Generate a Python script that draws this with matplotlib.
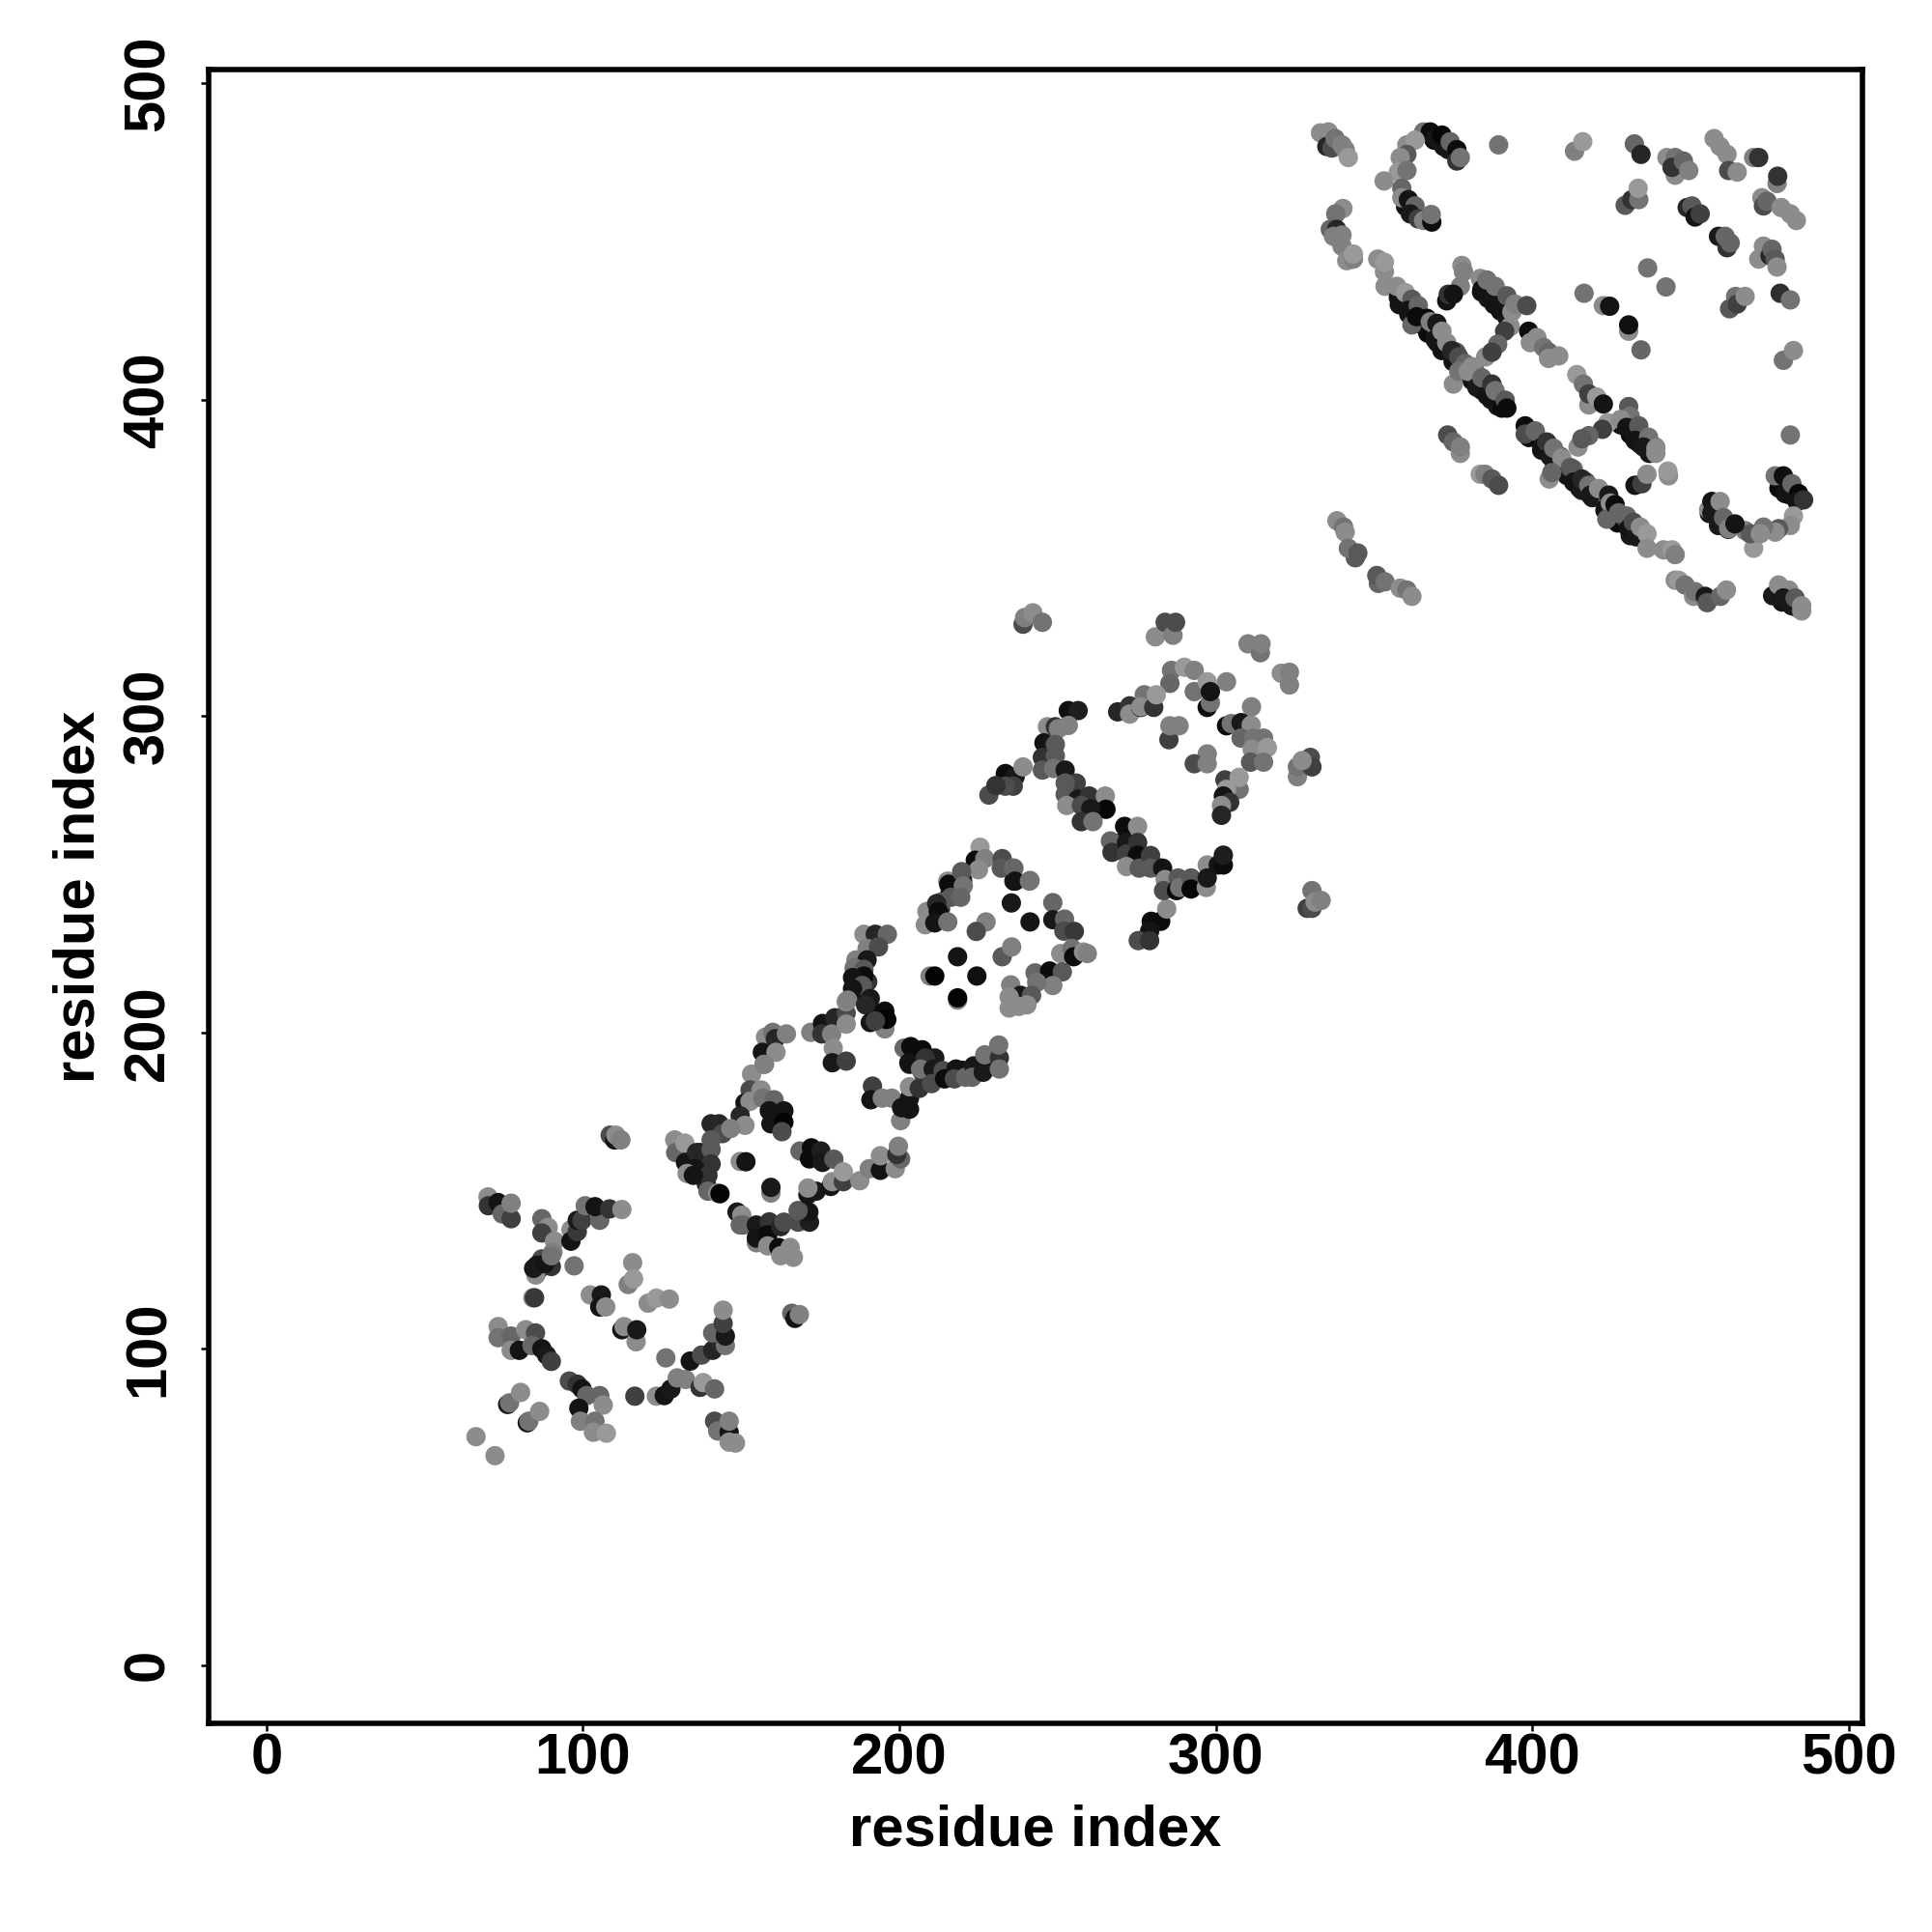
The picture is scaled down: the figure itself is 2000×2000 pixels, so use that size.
#!/usr/bin/env python3
import matplotlib
matplotlib.use("Agg")
import matplotlib.pyplot as plt
import numpy as np

# contacts: (residue i, residue j, grey level)
contacts_band_under = [
    (358,430,.08),(361,427,.1),(364,424,.08),(367,421,.05),(370,418,.08),(372,416,.1),
    (375,412,.08),(378,409,.05),(381,406,.08),(384,403,.05),(387,400,.08),(389,398,.1),
    (358,433,.45),(364,427,.5),(370,421,.4),(376,415,.35),(382,409,.45),(388,403,.5),
    (399,388,.05),(403,384,.08),(407,380,.1),(411,376,.08),(415,372,.05),(419,369,.1),
    (423,365,.08),(427,361,.05),(431,357,.1),(401,390,.4),(405,386,.35),(409,382,.25),
    (413,378,.4),(417,374,.3),(421,371,.45),(425,367,.35),(429,363,.3),(433,359,.45),
    (384,434,.08),(386,432,.1),(388,430,.08),(390,428,.05),(392,426,.1),(386,435,.4),
    (389,432,.35),(392,429,.45),(428,392,.08),(431,389,.05),(434,386,.1),(437,383,.08),
    (430,394,.35),(433,391,.4),(436,388,.3),(439,385,.45),(360,461,.08),(363,459,.1),
    (366,457,.05),(369,482,.05),(372,480,.08),(456,364,.08),(459,361,.1),(462,359,.05),
    (478,372,.05),(481,370,.08),(484,368,.05),(476,338,.1),(479,336,.08),(482,335,.1),
    (484,334,.5),
]
contacts_lower_under = [
    (135,160,.08),(137,157,.08),(139,152,.15),(137,162,.1),(212,187,.08),(216,187,.1),
    (220,188,.08),(224,187,.3),(228,189,.08),(209,190,.08),(187,218,.1),(186,212,.08),
    (190,216,.2),(193,206,.08),(196,204,.02),(262,270,.1),(258,274,.08),(270,260,.12),
    (274,258,.1),(278,254,.08),(282,252,.1),(86,125,.08),(88,128,.1),(90,126,.2),
    (213,239,.2),(216,244,.1),(220,248,.08),(224,252,.2),
]
contacts_far_left = [
    (66.2,72.2,.55),(72.2,66.2,.55),(76.2,82.4,.08),(76.8,82.9,.45),(80.3,86.2,.55),
    (82.4,76.6,.08),(82.9,77.1,.45),(86.3,80.2,.55),(70,148,.55),(70.1,145.2,.2),
    (73.2,146.2,.08),(74.5,142.6,.4),(77.3,141.1,.25),(77.3,146,.5),(87,141.1,.4),
    (89,138.4,.55),(87,136.6,.25),(91,134,.55),(87,128.4,.3),(85.1,123.3,.55),
    (85.5,126.4,.08),(84.4,125.4,.1),(88,126.9,.08),(90.5,130.5,.5),(90,129.4,.45),
    (96.2,137.6,.55),(96.2,134,.08),(98.2,137,.22),(98.2,140.6,.1),(99.7,140.6,.25),
    (100.7,145.2,.45),(105.3,140.6,.4),(103.8,144.9,.08),(108.4,144.2,.2),(112.3,144,.55),
    (97.2,126.2,.45),(84.2,116.1,.5),(84.7,116.1,.22),(108.6,167.5,.3),(110,166,.08),
    (110.4,167.5,.55),(112,166,.5),
]
contacts_mid_left = [
    (102.3,117,.55),(105.8,117,.1),(105.3,113.2,.08),(107.2,113.2,.55),(115.7,127.2,.55),
    (114.3,120.3,.5),(116,122.1,.6),(120.6,114.4,.55),(123.2,116,.6),(127.3,115.7,.55),
    (112.3,106,.08),(113,107,.55),(116.8,102.2,.55),(117,106,.1),(126.2,97.1,.45),
    (73.2,107,.55),(73.2,103.5,.45),(77.3,104,.4),(77.3,99.5,.55),(79.9,99.5,.08),
    (81.9,106,.55),(85,105,.3),(83.9,101,.4),(87,100,.08),(88.5,98,.1),(90,96,.25),
    (95.7,89.8,.3),(98.2,88.8,.2),(99.7,87.3,.08),(101.2,85.2,.4),(98.7,81.2,.08),
    (105.3,85.2,.4),(106.4,82.2,.55),(99.2,77.1,.5),(103.8,77.1,.45),(103.3,73.6,.55),
    (107.4,73.3,.6),(116.4,85,.25),
]
contacts_low_arm = [
    (123.2,85,.55),(125.7,85.2,.08),(127.8,87.3,.1),(129.8,90.8,.5),(132.4,90.3,.5),
    (137,87.8,.2),(138,89.3,.6),(141.6,87.3,.4),(133.9,96.1,.08),(137.5,98,.3),
    (141,99.5,.15),(141,105,.4),(145,101,.45),(145,104,.1),(144.3,108,.25),(144.3,112.2,.55),
    (141.6,77.1,.3),(142.6,74,.45),(146.2,73.6,.08),(146.2,77.1,.5),(146.2,70.5,.55),
    (148.2,70.2,.55),(166,111.2,.4),(167,109.6,.08),(168.4,110.8,.5),
]
contacts_square_a = [
    (153.3,186.8,.55),(157.4,189.9,.5),(152.8,181.8,.3),(156.3,181.8,.55),(151.2,177.7,.08),
    (152.8,178.2,.55),(149.7,173.6,.15),(151.2,170.6,.55),(156.8,179.2,.45),(160.4,178.7,.4),
    (158.9,175.2,.08),(163.5,175.2,.08),(159.4,171.1,.08),(163.5,171.6,.02),(162.9,168.6,.3),
    (140.5,171.1,.15),(143,171.1,.15),(144.1,168,.3),(146.7,169.6,.5),(140.5,166,.35),
    (129,166,.55),(129.3,162,.4),(132.2,165,.6),(132.4,158.9,.08),(135.9,162,.15),
    (140.5,163,.35),(140.5,158.4,.2),(135.4,156.9,.08),(132.9,155.4,.55),(139.5,154.8,.2),
    (134.9,154.8,.08),(139.5,149.8,.4),(142.6,149.2,.55),(143.3,149,.02),(149.7,159.2,.55),
    (151.5,159.1,.08),(159.4,149.2,.5),(159.4,151,.1),
]
contacts_square_b = [
    (148.7,143.2,.1),(150.2,142.2,.55),(149.7,139.1,.4),(150.7,139.1,.4),(154.8,139.1,.1),
    (154.8,133.5,.5),(154.8,135,.08),(158.9,140.1,.2),(158.4,136,.05),(162.5,138.6,.15),
    (163.5,140,.3),(158.4,132.5,.55),(161.9,132,.05),(162.5,129.4,.55),(165.5,132,.55),
    (166.5,128.9,.55),(168,140,.3),(171.6,140,.12),(171.4,143.2,.08),(168,143.7,.35),
    (171.1,148.7,.08),(173.7,149.8,.1),(171.1,150.8,.55),(168.6,162.5,.4),(172.2,163.5,.05),
    (171.6,160,.05),(175.2,162.5,.12),(175.7,158.9,.1),(179.3,159.9,.35),(178.3,151.3,.08),
    (178.8,152.8,.55),(182.3,152.8,.25),(182.3,155.9,.6),(187.5,153.1,.55),(190.5,156.9,.5),
    (194,156.4,.08),(194,161,.55),(198.7,156.9,.55),(200.4,160,.4),(199.2,161.4,.2),
    (199.7,164,.5),
]
contacts_cross = [
    (191.5,183,.25),(191,178.7,.08),(194.6,179.2,.5),(197.6,179.2,.5),(200.4,172.1,.5),
    (200.7,176.2,.08),(203.2,175.7,.08),(203.2,179.2,.08),(203.2,182.8,.55),(206.3,182.3,.2),
    (203.2,189.9,.1),(207.3,187.4,.2),(157.7,198.5,.55),(160,200,.45),(160.8,198,.15),
    (164.3,199.5,.5),(156.7,193.7,.08),(161,193.7,.55),(157.2,189.9,.5),(172,200,.5),
    (175.7,202.8,.08),(175.5,199.5,.2),(179.6,204.6,.15),(178.6,199.5,.5),(183.2,206.1,.3),
    (183.2,202.6,.55),(183.2,209.7,.55),(179.1,195,.55),(178.8,190.4,.1),(183.2,190.9,.25),
    (188.8,231,.55),(192.4,231,.15),(196.2,231,.4),(189.8,226.5,.5),(193.4,227,.3),
    (186.3,222.9,.5),(189.8,222.9,.1),(185.7,220.4,.45),(188.8,219.9,.35),(188.8,217.8,.05),
    (185.2,217.3,.08),(188.3,214.8,.35),(185.2,213.8,.08),(183.7,210.2,.5),(190.8,210.7,.1),
    (189.3,208.7,.15),(195.4,201.1,.5),(195.4,206.7,.05),(195.9,204.1,.02),(190.8,203.1,.08),
    (192.4,203.6,.25),
]
contacts_lower_band = [
    (201.5,195,.4),(203.6,195.5,.05),(207.2,194.5,.05),(203,190.4,.08),(211.2,191.9,.1),
    (208.2,191.9,.2),(206.7,188.4,.45),(210.7,188.4,.1),(210.2,183.8,.3),(213.8,187.9,.3),
    (214.3,185.3,.05),(217.9,188.4,.08),(217.4,185.3,.3),(220.9,185.8,.4),(223.5,189.4,.1),
    (223,185.8,.4),(226.5,187.4,.1),(227,192.9,.45),(231.6,191.9,.2),(231.6,188.4,.45),
    (231.4,196,.45),
]
contacts_diamond = [
    (225.5,258.5,.6),(224,254.4,.05),(227,254.9,.5),(225,251.4,.55),(232.5,254.9,.3),
    (232.2,251.9,.35),(236.2,251.9,.4),(236.2,247.8,.1),(241.3,248,.45),(215.3,247.8,.55),
    (215.6,246.8,.05),(219.7,250.8,.35),(220.2,246.3,.45),(213.3,241.2,.35),(216.3,242.7,.35),
    (219.4,242.7,.4),(208.7,238.2,.55),(211.8,240.7,.15),(212.3,238.2,.05),(208.2,234,.55),
    (211.2,234.6,.08),(215.3,234.9,.45),(235.4,240.9,.1),(248.5,241,.4),(227.4,234.9,.5),
    (224.3,231.9,.3),(241.3,234.9,.08),(248.5,235.6,.1),(252.2,235.8,.4),(252,232,.3),
    (255.3,231.9,.22),(218.4,223.9,.08),(209.7,217.8,.5),(211.2,217.8,.02),(224.5,217.8,.06),
    (218.4,210.2,.5),(218.4,210.9,.02),(232.5,223.9,.35),(235.5,227,.5),(251,224.9,.55),
    (254.6,226.5,.45),(255.1,223.9,.05),(258.2,225.4,.55),(259.4,224.9,.5),(242.9,218.8,.4),
    (247.5,219.4,.05),(251.5,219.1,.35),(248.5,214.8,.5),(243.4,215.8,.45),(235.2,215,.5),
    (238.3,211.7,.1),(234.7,207.7,.55),(234.7,211.2,.55),(241.8,211.7,.35),(240.3,208.7,.55),
    (237.8,208.2,.55),(279.6,235.1,.05),(282.6,235.1,.05),(279.1,232,.08),(275.5,229,.3),
    (279.1,229,.2),(284.5,239,.55),
]
contacts_upper_mid = [
    (239.1,329,.3),(239.6,331.1,.5),(242.2,332.6,.55),(245.2,329.6,.45),(280.9,325,.55),
    (284,329.6,.3),(286.5,325.5,.5),(287.3,329.6,.3),(310.2,322.8,.5),(314.1,320,.45),
    (314.3,322.8,.5),(320.7,313.5,.55),(323.3,309.8,.5),(323.3,313.8,.5),(286,314.4,.45),
    (285.5,310.3,.4),(290.1,315.4,.6),(293.2,307.7,.45),(293.2,314.4,.5),(297.3,310.8,.6),
    (303.4,310.8,.5),(297.3,302.7,.05),(298.3,304.2,.45),(298.3,307.7,.08),(269,301.3,.15),
    (272.8,303.2,.2),(272.8,300.6,.55),(276.3,302.7,.05),(277.4,306.7,.45),(276.3,302.9,.55),
    (280.4,302.7,.2),(281.2,306.7,.6),(285.2,292.5,.25),(285.5,296.9,.5),(288.4,296.9,.5),
    (311.3,302.9,.5),(303.4,296.9,.05),(304.9,297.6,.45),(308,297.9,.1),(311.2,297.1,.55),
    (308,293,.4),(312,293,.45),(315.1,293,.45),(311.5,289.5,.55),(316.3,290,.6),
    (311,285.4,.35),(315.1,285.4,.45),(297.3,288,.5),(293.2,284.9,.3),(297.3,284.9,.5),
]
contacts_upper_right = [
    (302.9,279.8,.25),(307.4,276.8,.45),(307.4,280.6,.6),(303.4,276.8,.6),(302.4,274.7,.08),
    (304.4,272.7,.2),(301.8,271.7,.55),(301.8,268.6,.15),(325.8,280.8,.5),(325.8,283.9,.45),
    (329.9,286.9,.3),(330.4,283.9,.25),(327.3,285.9,.55),(253.4,301.7,.06),(256.5,301.7,.12),
    (246.8,296.6,.55),(249.3,296.6,.2),(250.3,296,.5),(253.4,297,.5),(245.7,291.5,.08),
    (249.3,291,.35),(245.2,286.9,.2),(249.3,287.4,.35),(245.2,282.9,.35),(248.8,283.4,.45),
    (252.4,282.9,.1),(255.9,278.8,.25),(252.4,278.8,.35),(252.4,275.2,.35),(256.5,273.7,.1),
    (260,274.7,.2),(265.1,274.7,.55),(252.9,271.7,.55),(257.5,271.7,.3),(265.3,270.5,.03),
    (260.5,270.7,.1),(257.5,266.6,.2),(261.2,266.6,.45),
]
contacts_lower_right = [
    (271.2,265.1,.05),(275.3,265.1,.55),(266.7,260.5,.4),(267.2,256.9,.2),(271.8,260,.1),
    (271.8,256.4,.25),(275.3,260,.2),(275.3,256,.05),(271.8,252.4,.55),(275.8,251.9,.35),
    (279.4,255.9,.25),(279.4,251.9,.35),(283.2,251.9,.08),(284,248.3,.55),(283.5,244.8,.3),
    (288.1,248.8,.35),(287.6,244.8,.05),(288.6,245.8,.45),(292.2,248.8,.35),(292.2,245.3,.03),
    (297.3,252.9,.55),(297,245.8,.55),(297.3,248.8,.1),(300.8,252.9,.08),(302.4,252.9,.05),
    (302.4,256,.12),(330.4,244.8,.45),(328.9,239.2,.25),(330.4,239.2,.3),(331.4,241.2,.55),
    (333.3,241.7,.5),(233.5,281.8,.05),(236.6,280.8,.1),(239.1,283.9,.55),(236,277.8,.25),
    (233.5,277.8,.3),(228.3,275,.3),(230.5,278,.2),(236,251.9,.4),(236.6,247.8,.08),
    (241.1,247.8,.45),
]
contacts_top_hooks = [
    (333.1,484.3,.55),(335.6,484.6,.55),(335.1,480,.15),(336.7,479.5,.3),(337.7,482.5,.45),
    (339.9,480.5,.5),(340.9,479,.5),(341.9,476.5,.6),(365.7,484.6,.45),(367.8,484.6,.05),
    (369.3,482.5,.08),(371.5,483.6,.03),(373.5,479,.1),(374.1,481.5,.4),(376.2,479,.05),
    (376.2,475.4,.2),(377.3,476.5,.45),(360.4,480.5,.55),(363,482,.6),(360.4,477.5,.35),
    (358.3,476.5,.55),(357.7,471.9,.6),(360.4,472.4,.45),(353.2,469.1,.55),(358.8,466.8,.4),
    (358.8,463.8,.55),(360.9,463.2,.08),(363,461.2,.4),(361.5,458.7,.1),(364,457.1,.25),
    (365.7,456.6,.5),(368.3,456.1,.05),(368.1,458.5,.45),(389.4,480.5,.45),(413.4,478.5,.5),
    (416,481.5,.6),(432.3,480.8,.4),(434.4,477.5,.15),
]
contacts_top_right = [
    (445.2,470.9,.55),(442.6,476.5,.55),(445.2,476.5,.45),(444.2,473.4,.2),(447.8,475.4,.4),
    (449.5,472.4,.5),(457.5,482.5,.55),(459.4,480,.55),(461.6,477.5,.55),(462.1,472.4,.3),
    (464.8,471.9,.55),(470,476.5,.5),(471.6,476.5,.2),(477.4,468.3,.5),(477.6,470.6,.2),
    (472.6,463.8,.55),(473.1,461.2,.3),(474.2,462.7,.4),(478.7,460.7,.55),(481.6,458.7,.55),
    (483.5,456.6,.55),(449,460.7,.15),(450.5,461.2,.35),(451.5,457.7,.08),(453.1,458.7,.25),
    (458.9,451.6,.1),(461.6,448,.2),(461,451.6,.4),(462.6,449.5,.4),(473.1,448.5,.55),
    (471.6,444.4,.55),(475.2,445.5,.15),(475.8,447.5,.4),(476.8,444.4,.35),(477.4,441.9,.55),
    (429.4,461.4,.35),(431.5,463.2,.2),(433.7,463.2,.45),(433.5,466.8,.6),(436.5,441.6,.45),
    (442.3,435.6,.45),(416.4,433.6,.45),(422.5,429.7,.55),(424.5,429.5,.08),(430.5,421.6,.55),
    (430.5,423.6,.06),(434.4,415.7,.4),(478.4,433.6,.18),(481.6,431.5,.45),(462.4,428.7,.35),
    (464.3,432.6,.45),(464.8,430.2,.25),(467.3,432.6,.55),(479.4,412.4,.45),(482.6,415.5,.55),
]
contacts_diag_a = [
    (340.2,460.4,.55),(337.9,458.7,.45),(336.2,453.8,.4),(338.2,453.8,.15),(337.2,451.6,.5),
    (339.9,452,.5),(339.9,448.5,.5),(341.4,443.9,.55),(343.5,444.4,.5),(343.5,446,.6),
    (351.2,444.4,.55),(353.3,440.4,.55),(353.3,443.4,.6),(353.5,435.8,.55),(357.7,432.3,.08),
    (357.2,435.8,.55),(359.9,433.8,.6),(362,431.7,.35),(360.9,428.2,.08),(364,429.7,.4),
    (362,423.6,.4),(363.5,426.2,.05),(366.7,425.7,.05),(367.8,424.6,.5),(369.9,424.1,.1),
    (369.3,419,.08),(371.5,421.6,.55),(371.5,415.5,.08),(373,418,.55),(374.6,415.5,.15),
    (376.8,413.5,.3),(378.8,411.4,.4),(381,410.4,.55),(375.1,404.9,.55),(376.8,408.9,.45),
    (379.8,408.9,.55),(382.5,403.9,.1),(384.1,406.9,.4),(385.7,401.3,.08),(387.3,404.9,.2),
    (388.3,402.8,.45),(390.4,397.3,.05),(391.5,399.8,.35),(392,397.3,.05),
]
contacts_inner = [
    (377.8,442.4,.55),(378.3,440.4,.5),(377.3,435.8,.5),(373,431.2,.08),(373.5,433.3,.2),
    (375.1,433.3,.08),(383.6,438.3,.55),(384.1,434.8,.08),(385.7,437.8,.45),(387.3,431.2,.08),
    (388.3,435.8,.45),(390.4,428.7,.08),(392,432.8,.35),(393.6,427.7,.55),(394.6,430.2,.5),
    (398.3,429.7,.3),(393.1,423.1,.55),(391.3,421.6,.25),(389.1,417.5,.4),(385.3,413.5,.55),
    (387.3,415,.25),(398.9,421.6,.06),(399.4,418,.55),(401.5,419.6,.55),(403.6,416.5,.45),
    (405.2,415,.4),(405.2,413,.55),(408.4,413.8,.55),(414.1,407.9,.6),(416.2,404.9,.45),
    (417.9,398.3,.55),(417.9,401.8,.25),(420.4,400.8,.6),(422.5,398.6,.08),(423.9,392.7,.6),
    (422.2,390.6,.25),(417.9,388.6,.4),(414.5,385,.55),(415.7,387.6,.35),(430.5,397.8,.35),
    (431,394.7,.45),(427.9,393.7,.55),(429.9,391.2,.08),(433.7,391.7,.35),(432.5,387.1,.08),
    (436.8,388.1,.45),(435.2,385,.1),(439.1,383,.55),(439.1,384.6,.55),(373.3,388.8,.3),
    (375.1,386.6,.4),(377.3,383,.55),(377.3,385,.5),(383.6,376.4,.6),(385.1,376.4,.5),
    (387.3,374.9,.35),(389.4,372.9,.3),
]
contacts_diag_b = [
    (397.8,391.7,.05),(397.8,389.1,.3),(400.9,390.1,.4),(403.1,385,.08),(404.6,386.6,.2),
    (405.7,382,.1),(406.8,384.6,.45),(409.4,381.5,.55),(405.4,374.9,.55),(406.2,376.9,.4),
    (412.1,378.5,.35),(413.1,373.9,.08),(415.7,371.3,.1),(415.7,374.9,.15),(417.9,372.9,.45),
    (418.4,369.8,.1),(421,371.9,.55),(424.2,369.8,.1),(424.7,367.3,.55),(423.6,362.2,.4),
    (426.2,366.8,.05),(427.3,364.2,.4),(429.9,363.2,.4),(430.5,359.2,.08),(432,361.2,.3),
    (433,356.6,.1),(434.2,359.7,.55),(436.3,357.6,.6),(436.3,353,.55),(441.5,352.5,.55),
    (444.2,352.5,.6),(445.2,351,.5),(432.5,372.9,.08),(434.7,373.4,.25),(436.3,376.4,.55),
    (443.1,375.9,.55),(442.9,377.4,.6),
]
contacts_bottom = [
    (338.3,361.7,.55),(340.4,359.7,.45),(340.9,358.1,.55),(344.1,350,.35),(341.9,353,.45),
    (344.9,351.5,.35),(351.4,341.9,.4),(350.9,344.4,.35),(353.5,342.4,.45),(358.3,340.4,.55),
    (360.4,339.8,.45),(362,337.8,.55),(445.2,342.9,.55),(446.3,342.9,.6),(448.3,341.4,.45),
    (451,337.8,.55),(451.5,339.3,.45),(454.7,337.8,.1),(455.3,335.8,.35),(459.5,337.8,.4),
    (461.4,339.8,.55),(477.9,341.4,.55),(481.1,339.8,.55),(479.4,337.3,.1),(482.1,334.8,.1),
    (483.1,337.3,.35),(485.2,334.8,.55),(485.2,333.2,.55),(481.6,388.8,.45),
]
contacts_hook_right = [
    (476.8,375.9,.45),(479.4,375.9,.06),(479.9,370.3,.08),(482.1,373.4,.4),(484.2,370.3,.03),
    (483.7,367.8,.08),(485.8,368.3,.2),(482.6,363.2,.6),(481.6,360.2,.55),(477.9,359.2,.35),
    (476.8,358.1,.55),(473.1,359.7,.45),(470,353,.6),(467.3,358.6,.5),(468.9,357.6,.35),
    (472.1,357.6,.55),(455.8,365.2,.55),(456.8,367.8,.08),(456.8,364.2,.1),(458.9,360.2,.1),
    (459.4,367.8,.55),(460.5,362.7,.4),(462.1,359.2,.5),(464.1,360.7,.08),
]

contact_groups = [
    contacts_band_under, contacts_lower_under,
    contacts_far_left, contacts_mid_left, contacts_low_arm, contacts_square_a,
    contacts_square_b, contacts_cross, contacts_lower_band, contacts_diamond,
    contacts_upper_mid, contacts_upper_right, contacts_lower_right, contacts_top_hooks,
    contacts_top_right, contacts_diag_a, contacts_inner, contacts_diag_b,
    contacts_bottom, contacts_hook_right,
]
tick_values = [0, 100, 200, 300, 400, 500]

plt.rcParams["font.family"] = ["Liberation Sans", "DejaVu Sans"]
plt.rcParams["font.weight"] = "bold"

fig = plt.figure(figsize=(10, 10), dpi=200)
ax = fig.add_axes([216 / 2000, 1 - 1784 / 2000, (1927.7 - 216) / 2000, (1784 - 71.7) / 2000])

for group in contact_groups:
    arr = np.array(group)
    ax.scatter(arr[:, 0], arr[:, 1], c=arr[:, 2], cmap="gray", vmin=0, vmax=1,
               s=52, linewidths=0, zorder=2)

ax.set_xlim(-18.3, 504.3)
ax.set_ylim(-18.4, 504.4)
ax.set_xticks(tick_values)
ax.set_yticks(tick_values)
ax.tick_params(axis="x", length=3, width=0.9, labelsize=21.5, pad=0.5)
ax.tick_params(axis="y", length=3, width=0.9, labelsize=21.5, pad=9.4)
for lab in ax.get_yticklabels():
    lab.set_rotation(90)
    lab.set_va("center")
for spine in ax.spines.values():
    spine.set_linewidth(2)

ax.set_xlabel("residue index", fontsize=21.5, fontweight="bold", labelpad=6.6)
ax.set_ylabel("residue index", fontsize=21.5, fontweight="bold", labelpad=6.3)

fig.savefig("out.png", dpi=200)
